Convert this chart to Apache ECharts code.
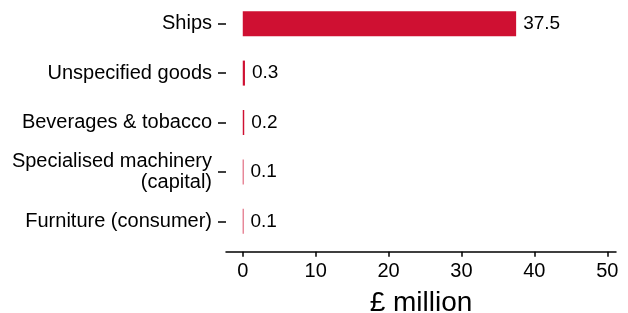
<!DOCTYPE html>
<html>
<head>
    <meta charset="utf-8"/>
    <title>Exports</title>
    <script src="https://cdn.jsdelivr.net/npm/echarts@6/dist/echarts.min.js"></script>
    <style>
        html, body { margin: 0; padding: 0; background: #ffffff; }
        #chart { width: 628px; height: 313px; }
    </style>
</head>
<body>
<div id="chart"></div>
<script>
// categories bottom -> top (category axis draws first item at the bottom)
var categories = ['Furniture (consumer)', 'Specialised machinery\n(capital)', 'Beverages & tobacco', 'Unspecified goods', 'Ships'];
var values = [0.1, 0.1, 0.2, 0.3, 37.5];
var xTicks = [0, 10, 20, 30, 40, 50];

var chart = echarts.init(document.getElementById('chart'));
var font = 'Liberation Sans, Arial, sans-serif';

var option = {
    animation: false,
    grid: { left: 226, right: 12, top: -1, bottom: 67, outerBoundsMode: 'none' },
    xAxis: {
        type: 'value',
        min: -2.3,
        max: 51.2,
        offset: 5.7,
        name: '£ million',
        nameLocation: 'middle',
        nameGap: 38,
        nameTextStyle: { fontFamily: font, fontSize: 28, color: '#000' },
        splitLine: { show: false },
        axisLine: { show: true, onZero: false, lineStyle: { color: '#000', width: 1.5 } },
        axisTick: { show: true, length: 5, customValues: xTicks, lineStyle: { color: '#000', width: 1.5 } },
        axisLabel: { customValues: xTicks, fontFamily: font, fontSize: 20, color: '#000', margin: 10 }
    },
    yAxis: {
        type: 'category',
        data: categories,
        axisLine: { show: false, onZero: false },
        axisTick: { show: true, length: 8, alignWithLabel: true, lineStyle: { color: '#000', width: 1.5 } },
        axisLabel: { fontFamily: font, fontSize: 20, color: '#000', margin: 14, lineHeight: 21, align: 'right' }
    },
    series: [{
        type: 'bar',
        data: values,
        barWidth: 25,
        itemStyle: { color: '#cf1032' },
        label: {
            show: true,
            position: 'right',
            distance: 7,
            fontFamily: font,
            fontSize: 19,
            color: '#000'
        }
    }]
};
chart.setOption(option);
</script>
</body>
</html>
